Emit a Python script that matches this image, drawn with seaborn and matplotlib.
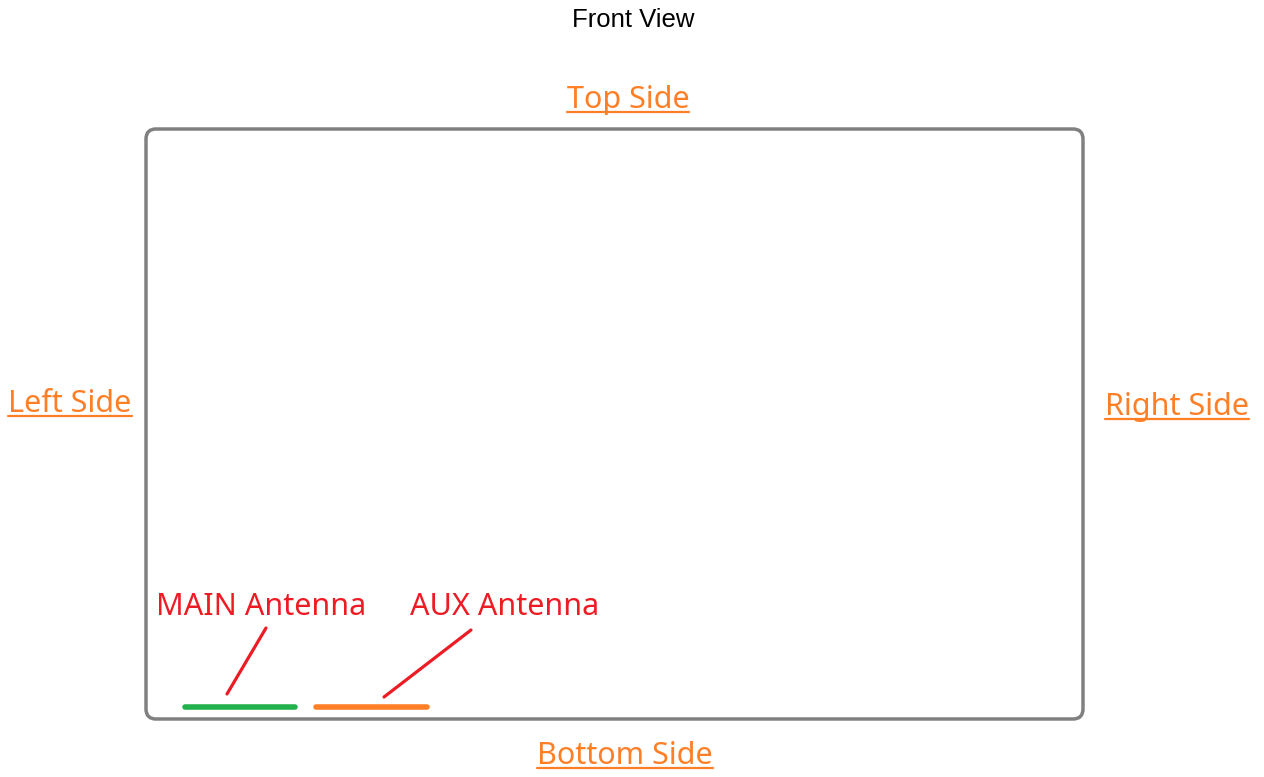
# %%
import pandas as pd
import seaborn as sns
import matplotlib.pyplot as plt
from matplotlib.patches import FancyBboxPatch

# %% Diagram data (pixel units of the picture)
box = [146, 129, 1083, 719]          # left, top, right, bottom
side_labels = ['Top Side', 'Left Side', 'Right Side', 'Bottom Side']
side_x = [628, 70, 1177, 625]
side_y = [108, 412, 415, 764]        # baselines
antenna_names = ['MAIN Antenna', 'AUX Antenna']
antenna_x0 = [185, 316]
antenna_x1 = [295, 427]
antenna_y = [707, 707]
antenna_colors = ['#22b14c', '#ff7f27']
label_x = [156, 410]
label_y = [615, 615]
leader_start = [(266, 628), (471, 630)]
leader_end = [(227, 694), (384, 697)]

ORANGE = '#ff7f27'
RED = '#ed1c24'

# %% Drawing
sns.set_theme(style='white')
plt.rcParams['font.family'] = ['Noto Sans', 'DejaVu Sans']

fig = plt.figure(figsize=(12.64, 7.77), dpi=100)
ax = fig.add_axes([0, 0, 1, 1])

ax.text(633, 27, 'Front View', ha='center', va='baseline',
        fontsize=18.5, family=['Liberation Sans', 'DejaVu Sans'], color='black')

frame = FancyBboxPatch((box[0], box[1]), box[2] - box[0], box[3] - box[1],
                       boxstyle='round,pad=0,rounding_size=10',
                       fill=False, edgecolor='#808080', linewidth=2.5)
ax.add_patch(frame)

# antennas
df_ant = pd.DataFrame({
    'x': antenna_x0 + antenna_x1,
    'y': antenna_y + antenna_y,
    'name': antenna_names + antenna_names,
})
sns.lineplot(data=df_ant, x='x', y='y', hue='name', palette=antenna_colors,
             linewidth=4, legend=False, ax=ax, solid_capstyle='round')
ax.set_xlim(0, 1264)
ax.set_ylim(777, 0)
ax.axis('off')

for name, x, y, (sx, sy), (ex, ey) in zip(antenna_names, label_x, label_y,
                                          leader_start, leader_end):
    ax.text(x, y, name, ha='left', va='baseline', fontsize=22, color=RED)
    ax.plot([sx, ex], [sy, ey], color=RED, linewidth=2.3, solid_capstyle='round')

# side labels with underline
texts = []
for lab, x, y in zip(side_labels, side_x, side_y):
    texts.append(ax.text(x, y, lab, ha='center', va='baseline',
                         fontsize=22, color=ORANGE))

fig.canvas.draw()
renderer = fig.canvas.get_renderer()
inv = ax.transData.inverted()
for t, y in zip(texts, side_y):
    bb = t.get_window_extent(renderer)
    (x0, _), (x1, _) = inv.transform([(bb.x0, bb.y0), (bb.x1, bb.y1)])
    ax.plot([x0, x1], [y + 4, y + 4], color=ORANGE, linewidth=1.6)

fig.savefig('out.png', dpi=100)
